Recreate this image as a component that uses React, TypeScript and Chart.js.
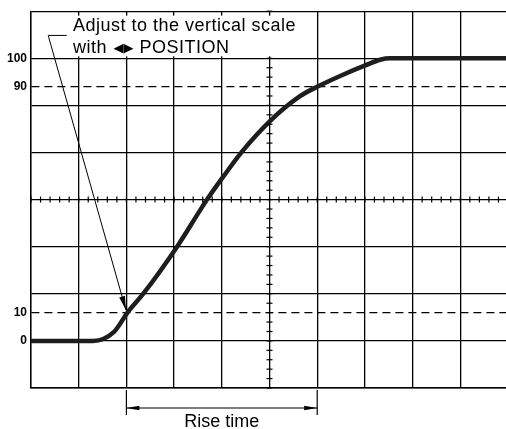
import React, { useEffect, useRef } from 'react';
import { Chart, registerables } from 'chart.js';

Chart.register(...registerables);

// ---- data ----
const divisionTicks = [0, 1, 2, 3, 4, 5, 6, 7, 8, 9, 10];
const gridLevels = [-50 / 3, 0, 50 / 3, 100 / 3, 50, 200 / 3, 250 / 3, 100, 350 / 3];
const dashedLevels = [10, 90];
const labelledLevels = [0, 10, 90, 100];
const tickLabels = ['0', '10', '90', '100'];

const timeDiv = [0, 1.3, 1.74, 2.03, 2.35, 3.08, 3.54, 3.69, 4.0, 4.42, 5.01, 5.64, 6.02, 6.54, 7.02, 7.32, 7.53, 10];
const amplitude = [0, 0, 3.2, 10.2, 16.6, 33.8, 46.1, 50, 57.4, 66.9, 77.8, 86.6, 90.1, 94.2, 97.6, 99.5, 100, 100];

const riseStart = 2;
const riseEnd = 6;
const riseLabel = 'Rise time';
const noteLine1 = 'Adjust to the vertical scale';
const noteWith = 'with';
const noteSymbol = '◀▶';
const notePosition = 'POSITION';

// annotation anchors in data units (divisions, percent)
const noteBox = { x0: 0.78, x1: 5.64, y0: 100.7, y1: 115.1 };
const noteText = { x: 0.88, y1: 109.5, y2: 101.8 };
const leader = { xa: 0.75, xb: 0.36, ya: 108.1, tipX: 1.99, tipY: 10.9 };

function arrowHead(ctx: CanvasRenderingContext2D, fx: number, fy: number, tx: number, ty: number, len: number, half: number) {
  const a = Math.atan2(ty - fy, tx - fx);
  const bx = tx - Math.cos(a) * len;
  const by = ty - Math.sin(a) * len;
  ctx.beginPath();
  ctx.moveTo(tx, ty);
  ctx.lineTo(bx + Math.sin(a) * half, by - Math.cos(a) * half);
  ctx.lineTo(bx - Math.sin(a) * half, by + Math.cos(a) * half);
  ctx.closePath();
  ctx.fill();
}

const overlay = {
  id: 'overlay',
  afterDatasetsDraw(chart: any) {
    const { ctx, chartArea, scales } = chart;
    const x = scales.x;
    const y = scales.y;
    ctx.save();
    ctx.strokeStyle = '#000';
    ctx.fillStyle = '#000';
    ctx.lineWidth = 1.2;

    // minor ticks on the centre axes
    const cy = y.getPixelForValue(50);
    const cx = x.getPixelForValue(5);
    for (let i = 0; i <= 50; i++) {
      const px = x.getPixelForValue(i / 5);
      ctx.beginPath();
      ctx.moveTo(px, cy - 3);
      ctx.lineTo(px, cy + 3);
      ctx.stroke();
    }
    for (let i = 0; i <= 40; i++) {
      const py = y.getPixelForValue(-50 / 3 + (i * 10) / 3);
      ctx.beginPath();
      ctx.moveTo(cx - 3, py);
      ctx.lineTo(cx + 3, py);
      ctx.stroke();
    }

    // white note box
    const bx0 = x.getPixelForValue(noteBox.x0);
    const bx1 = x.getPixelForValue(noteBox.x1);
    const by0 = y.getPixelForValue(noteBox.y1);
    const by1 = y.getPixelForValue(noteBox.y0);
    ctx.fillStyle = '#fff';
    ctx.fillRect(bx0, by0, bx1 - bx0, by1 - by0);

    // note text
    ctx.fillStyle = '#000';
    ctx.textBaseline = 'alphabetic';
    ctx.textAlign = 'left';
    ctx.font = '18px "Liberation Sans", Arial, sans-serif';
    (ctx as any).letterSpacing = '0.5px';
    const tx = x.getPixelForValue(noteText.x);
    ctx.fillText(noteLine1, tx, y.getPixelForValue(noteText.y1));
    const l2 = y.getPixelForValue(noteText.y2);
    ctx.fillText(noteWith, tx, l2);
    let cur = tx + ctx.measureText(noteWith + ' ').width + 1;
    ctx.font = '13px "DejaVu Sans", sans-serif';
    (ctx as any).letterSpacing = '0px';
    ctx.fillText(noteSymbol, cur, l2 - 1.5);
    cur += ctx.measureText(noteSymbol).width + 6;
    ctx.font = '18px "Liberation Sans", Arial, sans-serif';
    (ctx as any).letterSpacing = '0.5px';
    ctx.fillText(notePosition, cur, l2);
    (ctx as any).letterSpacing = '0px';

    // leader line and arrow
    const lxa = x.getPixelForValue(leader.xa);
    const lxb = x.getPixelForValue(leader.xb);
    const lya = y.getPixelForValue(leader.ya);
    const tipx = x.getPixelForValue(leader.tipX);
    const tipy = y.getPixelForValue(leader.tipY);
    ctx.lineWidth = 1;
    ctx.beginPath();
    ctx.moveTo(lxa, lya);
    ctx.lineTo(lxb, lya);
    ctx.lineTo(tipx, tipy);
    ctx.stroke();
    arrowHead(ctx, lxb, lya, tipx, tipy, 14, 3);

    // rise time bracket
    const rx0 = x.getPixelForValue(riseStart);
    const rx1 = x.getPixelForValue(riseEnd);
    const bot = chartArea.bottom;
    ctx.lineWidth = 1.2;
    ctx.beginPath();
    ctx.moveTo(rx0, bot + 2);
    ctx.lineTo(rx0, bot + 27);
    ctx.moveTo(rx1, bot + 2);
    ctx.lineTo(rx1, bot + 27);
    ctx.moveTo(rx0, bot + 20);
    ctx.lineTo(rx1, bot + 20);
    ctx.stroke();
    arrowHead(ctx, rx1, bot + 20, rx0, bot + 20, 13, 2.2);
    arrowHead(ctx, rx0, bot + 20, rx1, bot + 20, 13, 2.2);

    ctx.textAlign = 'center';
    ctx.font = '18px "Liberation Sans", Arial, sans-serif';
    ctx.fillText(riseLabel, x.getPixelForValue((riseStart + riseEnd) / 2), bot + 39);
    ctx.restore();
  },
};

export default function App() {
  const ref = useRef<HTMLCanvasElement | null>(null);

  useEffect(() => {
    if (!ref.current) return;
    const points = timeDiv.map((t, i) => ({ x: t, y: amplitude[i] }));
    const chart = new Chart(ref.current, {
      type: 'line',
      data: {
        datasets: [
          {
            data: points,
            borderColor: '#1e1e1e',
            borderWidth: 4.5,
            pointRadius: 0,
            cubicInterpolationMode: 'monotone',
            fill: false,
          },
          {
            data: points,
            borderColor: '#555',
            borderWidth: 1.6,
            pointRadius: 0,
            cubicInterpolationMode: 'monotone',
            fill: false,
          },
        ],
      },
      plugins: [overlay],
      options: {
        animation: false,
        responsive: false,
        events: [],
        layout: { padding: { top: 9, right: 12, bottom: 41, left: 0 } },
        plugins: { legend: { display: false }, tooltip: { enabled: false } },
        scales: {
          x: {
            type: 'linear',
            min: 0,
            max: 10,
            afterBuildTicks: (s: any) => {
              s.ticks = divisionTicks.map((v) => ({ value: v }));
            },
            afterFit: (s: any) => {
              s.height = 0;
            },
            ticks: { display: false },
            grid: { color: '#000', lineWidth: 1.3, drawTicks: false },
            border: { display: true, color: '#000', width: 1.4 },
          },
          y: {
            type: 'linear',
            min: -50 / 3,
            max: 350 / 3,
            afterBuildTicks: (s: any) => {
              s.ticks = [...gridLevels, ...dashedLevels].sort((a, b) => a - b).map((v) => ({ value: v }));
            },
            afterFit: (s: any) => {
              s.width = 31;
            },
            ticks: {
              padding: 4,
              color: '#000',
              font: { family: '"Liberation Sans", Arial, sans-serif', size: 12, weight: 'bold' },
              callback: (v: any) => {
                const i = labelledLevels.indexOf(Number(v));
                return i >= 0 ? tickLabels[i] : '';
              },
            },
            grid: { color: '#000', lineWidth: 1.3, drawTicks: false },
            border: {
              display: true,
              color: '#000',
              width: 1.4,
              dash: (c: any) => (c && c.tick && dashedLevels.includes(c.tick.value) ? [8, 5] : []),
            },
          },
        },
      } as any,
    });
    return () => chart.destroy();
  }, []);

  return (
    <div style={{ position: 'fixed', left: 0, top: 0, width: 506, height: 429, overflow: 'hidden', background: '#fff' }}>
      <canvas ref={ref} width={520} height={429} style={{ display: 'block' }} />
    </div>
  );
}
